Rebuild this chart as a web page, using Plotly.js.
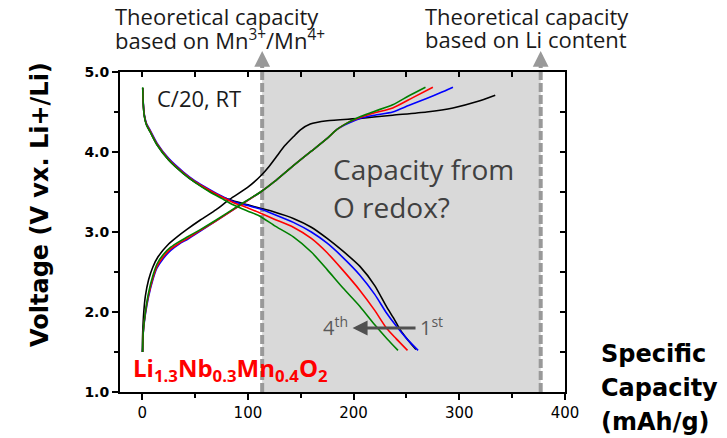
<!DOCTYPE html>
<html>
<head>
<meta charset="utf-8">
<script src="https://cdn.plot.ly/plotly-3.0.1.min.js"></script>
<style>html,body{margin:0;padding:0;background:#fff;}#chart{width:727px;height:438px;}</style>
</head>
<body>
<div id="chart"></div>
<script>
// ---- Data (capacity in mAh/g, voltage in V) ----
// 1st cycle (black)
const chg1X = [0, 0.5, 1.5, 3, 6, 10, 15, 25, 33, 42, 55, 70, 83, 100, 112, 120, 128, 135, 143, 150, 159, 175, 206, 237, 269, 294, 317, 334];
const chg1V = [1.50, 1.75, 2.00, 2.20, 2.40, 2.56, 2.69, 2.85, 2.94, 3.03, 3.15, 3.28, 3.41, 3.56, 3.70, 3.82, 3.96, 4.08, 4.19, 4.28, 4.35, 4.39, 4.42, 4.46, 4.50, 4.55, 4.63, 4.71];
const dch1X = [0.5, 1, 2, 4, 7.6, 14, 25, 39, 50, 64, 75, 86, 100, 111, 125, 143, 160, 175, 190, 206, 220, 231, 238, 244, 252, 259];
const dch1V = [4.80, 4.60, 4.45, 4.34, 4.25, 4.09, 3.90, 3.73, 3.62, 3.51, 3.44, 3.39, 3.34, 3.30, 3.25, 3.17, 3.06, 2.92, 2.76, 2.57, 2.33, 2.07, 1.92, 1.78, 1.64, 1.53];
// 2nd cycle (blue)
const chg2X = [0.5, 1, 3, 6, 10, 14, 20, 27, 35, 43, 55, 70, 90, 112, 125, 143, 160, 175, 184, 195, 206, 220, 237, 252, 269, 282, 294];
const chg2V = [1.50, 1.74, 1.97, 2.19, 2.40, 2.55, 2.67, 2.77, 2.85, 2.91, 3.01, 3.14, 3.31, 3.50, 3.63, 3.83, 4.01, 4.17, 4.28, 4.36, 4.42, 4.46, 4.50, 4.58, 4.67, 4.74, 4.81];
const dch2X = [0.5, 1, 2, 4, 7.6, 14, 25, 39, 50, 64, 75, 86, 100, 111, 125, 143, 160, 175, 190, 206, 220, 231, 240, 250, 261];
const dch2V = [4.80, 4.62, 4.47, 4.36, 4.27, 4.11, 3.92, 3.75, 3.64, 3.53, 3.45, 3.38, 3.33, 3.29, 3.22, 3.12, 3.00, 2.86, 2.68, 2.46, 2.22, 1.99, 1.83, 1.67, 1.52];
// 3rd cycle (red)
const chg3X = [0.5, 1, 3, 6, 10, 14, 20, 27, 35, 43, 55, 70, 90, 112, 125, 143, 160, 175, 184, 195, 206, 220, 237, 256, 275];
const chg3V = [1.50, 1.75, 1.99, 2.21, 2.42, 2.57, 2.69, 2.79, 2.86, 2.92, 3.02, 3.14, 3.31, 3.50, 3.63, 3.83, 4.01, 4.17, 4.28, 4.37, 4.43, 4.49, 4.55, 4.68, 4.81];
const dch3X = [0.5, 1, 2, 4, 7.6, 14, 25, 39, 50, 64, 75, 86, 100, 111, 125, 143, 160, 175, 190, 206, 220, 231, 240, 251];
const dch3V = [4.80, 4.61, 4.46, 4.35, 4.26, 4.10, 3.91, 3.74, 3.63, 3.52, 3.44, 3.37, 3.30, 3.24, 3.16, 3.06, 2.92, 2.74, 2.52, 2.27, 2.02, 1.80, 1.67, 1.52];
// 4th cycle (green)
const chg4X = [0.5, 1, 3, 6, 10, 14, 20, 27, 35, 43, 55, 70, 90, 112, 125, 143, 160, 175, 184, 195, 206, 220, 237, 252, 268];
const chg4V = [1.50, 1.75, 2.00, 2.24, 2.45, 2.60, 2.72, 2.81, 2.88, 2.94, 3.03, 3.15, 3.32, 3.50, 3.63, 3.83, 4.01, 4.17, 4.28, 4.37, 4.44, 4.51, 4.59, 4.70, 4.81];
const dch4X = [0.5, 1, 2, 4, 7.6, 14, 25, 39, 50, 64, 75, 86, 100, 111, 125, 143, 160, 175, 190, 206, 220, 232, 242];
const dch4V = [4.81, 4.60, 4.45, 4.34, 4.25, 4.09, 3.90, 3.73, 3.62, 3.50, 3.42, 3.34, 3.26, 3.20, 3.08, 2.94, 2.75, 2.53, 2.30, 2.07, 1.84, 1.66, 1.52];

const cycleNames = ['1st', '2nd', '3rd', '4th'];
const cycleColors = ['#000000', '#0000ff', '#ff0000', '#008000'];
const theoCapMn = 113.5;   // Mn3+/Mn4+ theoretical capacity
const theoCapLi = 377;     // Li-content theoretical capacity
const xTicks = [0, 100, 200, 300, 400];
const yTicks = [1, 2, 3, 4, 5];

const chgX = [chg1X, chg2X, chg3X, chg4X], chgV = [chg1V, chg2V, chg3V, chg4V];
const dchX = [dch1X, dch2X, dch3X, dch4X], dchV = [dch1V, dch2V, dch3V, dch4V];

const traces = [];
for (let i = 0; i < 4; i++) {
  traces.push({x: chgX[i], y: chgV[i], type: 'scatter', mode: 'lines', name: cycleNames[i] + ' charge',
    line: {color: cycleColors[i], width: 1.6, shape: 'spline', smoothing: 0.6}, hoverinfo: 'x+y'});
  traces.push({x: dchX[i], y: dchV[i], type: 'scatter', mode: 'lines', name: cycleNames[i] + ' discharge',
    line: {color: cycleColors[i], width: 1.6, shape: 'spline', smoothing: 0.6}, hoverinfo: 'x+y'});
}
// helper trace for mirrored axes
traces.push({x: [null], y: [null], xaxis: 'x2', yaxis: 'y2', mode: 'lines', showlegend: false, hoverinfo: 'skip'});

const calib = 'Open Sans, Lato, sans-serif';
const arialB = 'DejaVu Sans, Liberation Sans, Arial, sans-serif';
// pixel -> paper helpers for text placement
const L = 120, R = 565, T = 72, B = 392;
const px = v => (v - L) / (R - L);
const py = v => (B - v) / (B - T);

const ann = [];
function txt(text, x, y, size, color, opts) {
  ann.push(Object.assign({text: text, x: x, y: y, xref: 'paper', yref: 'paper', showarrow: false,
    xanchor: 'left', yanchor: 'middle', font: {family: calib, size: size, color: color}}, opts || {}));
}
txt('Theoretical capacity', px(113), py(16), 22, '#1a1a1a');
txt('based on Mn<sup>3+</sup>/Mn<sup>4+</sup>', px(113), py(39), 22, '#1a1a1a');
txt('Theoretical capacity', px(423), py(16), 22, '#1a1a1a');
txt('based on Li content', px(423), py(39), 22, '#1a1a1a');
txt('C/20, RT', px(155), py(98), 22, '#1a1a1a');
txt('Capacity from', px(331), py(169), 28, '#404040');
txt('O redox?', px(331), py(207), 28, '#404040');
ann.push({text: '<b>Li<sub>1.3</sub>Nb<sub>0.3</sub>Mn<sub>0.4</sub>O<sub>2</sub></b>', x: px(131), y: py(369), xref: 'paper', yref: 'paper',
  showarrow: false, xanchor: 'left', yanchor: 'middle', font: {family: calib, size: 24, color: '#ff0000'}});
// cycle arrow
ann.push({text: '', x: 199, y: 1.80, xref: 'x', yref: 'y', ax: 260, ay: 1.80, axref: 'x', ayref: 'y',
  showarrow: true, arrowhead: 2, arrowsize: 1, arrowwidth: 3, arrowcolor: '#505050'});
ann.push({text: '4<sup>th</sup>', x: 197, y: 1.82, xref: 'x', yref: 'y', showarrow: false, xanchor: 'right', yanchor: 'middle',
  font: {family: calib, size: 20, color: '#595959'}});
ann.push({text: '1<sup>st</sup>', x: 261, y: 1.82, xref: 'x', yref: 'y', showarrow: false, xanchor: 'left', yanchor: 'middle',
  font: {family: calib, size: 20, color: '#595959'}});
// upward arrows on the theoretical-capacity lines
[theoCapMn, theoCapLi].forEach(function (xv) {
  ann.push({text: '', x: xv, y: py(51), xref: 'x', yref: 'paper', ax: 0, ay: 14,
    showarrow: true, arrowhead: 2, arrowsize: 0.9, arrowwidth: 3.5, arrowcolor: '#999999'});
});
// axis titles
ann.push({text: '<b>Voltage (V vx. Li+/Li)</b>', x: px(40), y: py(205), xref: 'paper', yref: 'paper', textangle: -90,
  showarrow: false, xanchor: 'center', yanchor: 'middle', font: {family: arialB, size: 24, color: '#000'}});
['Specific', 'Capacity', '(mAh/g)'].forEach(function (t, i) {
  ann.push({text: '<b>' + t + '</b>', x: px(599), y: py(354 + i * 34), xref: 'paper', yref: 'paper',
    showarrow: false, xanchor: 'left', yanchor: 'middle', font: {family: arialB, size: 24, color: '#000'}});
});

const shapes = [
  {type: 'rect', xref: 'x', yref: 'paper', x0: theoCapMn, x1: theoCapLi, y0: 0, y1: 1,
    fillcolor: '#d9d9d9', line: {width: 0}, layer: 'below'},
  {type: 'line', xref: 'x', yref: 'paper', x0: theoCapMn, x1: theoCapMn, y0: 0, y1: py(58),
    line: {color: '#999999', width: 4, dash: '9px,3px'}, layer: 'below'},
  {type: 'line', xref: 'x', yref: 'paper', x0: theoCapLi, x1: theoCapLi, y0: 0, y1: py(58),
    line: {color: '#999999', width: 4, dash: '9px,3px'}, layer: 'below'}
];

const xr = [-21, 400], yr = [1, 5];
const layout = {
  width: 727, height: 438,
  margin: {l: L, r: 727 - R, t: T, b: 438 - B, pad: 0},
  paper_bgcolor: '#ffffff', plot_bgcolor: '#ffffff',
  showlegend: false,
  xaxis: {range: xr, tickvals: xTicks, ticktext: xTicks.map(String), ticks: 'outside', ticklen: 6, tickwidth: 2,
    tickcolor: '#000', showline: true, linecolor: '#000', linewidth: 2, showgrid: false, zeroline: false,
    tickfont: {family: arialB, size: 15, color: '#000'},
    minor: {dtick: 50, tick0: 0, ticks: 'outside', ticklen: 4, tickwidth: 2, tickcolor: '#000', showgrid: false}},
  yaxis: {range: yr, tickvals: yTicks, ticktext: yTicks.map(v => v.toFixed(1)), ticks: 'outside', ticklen: 6, tickwidth: 2,
    tickcolor: '#000', showline: true, linecolor: '#000', linewidth: 2, showgrid: false, zeroline: false,
    tickfont: {family: arialB, size: 14, color: '#000', weight: 'bold'},
    minor: {dtick: 0.5, tick0: 1, ticks: 'outside', ticklen: 4, tickwidth: 2, tickcolor: '#000', showgrid: false}},
  xaxis2: {range: xr, overlaying: 'x', side: 'top', anchor: 'y2', dtick: 50, tick0: 0, ticks: 'inside', ticklen: 5, tickwidth: 2,
    tickcolor: '#000', showticklabels: false, showline: true, linecolor: '#000', linewidth: 2, showgrid: false, zeroline: false},
  yaxis2: {range: yr, overlaying: 'y', side: 'right', anchor: 'x2', dtick: 0.5, tick0: 1, ticks: 'inside', ticklen: 5, tickwidth: 2,
    tickcolor: '#000', showticklabels: false, showline: true, linecolor: '#000', linewidth: 2, showgrid: false, zeroline: false},
  shapes: shapes,
  annotations: ann
};

Plotly.newPlot('chart', traces, layout, {displayModeBar: false, staticPlot: true});
</script>
</body>
</html>
